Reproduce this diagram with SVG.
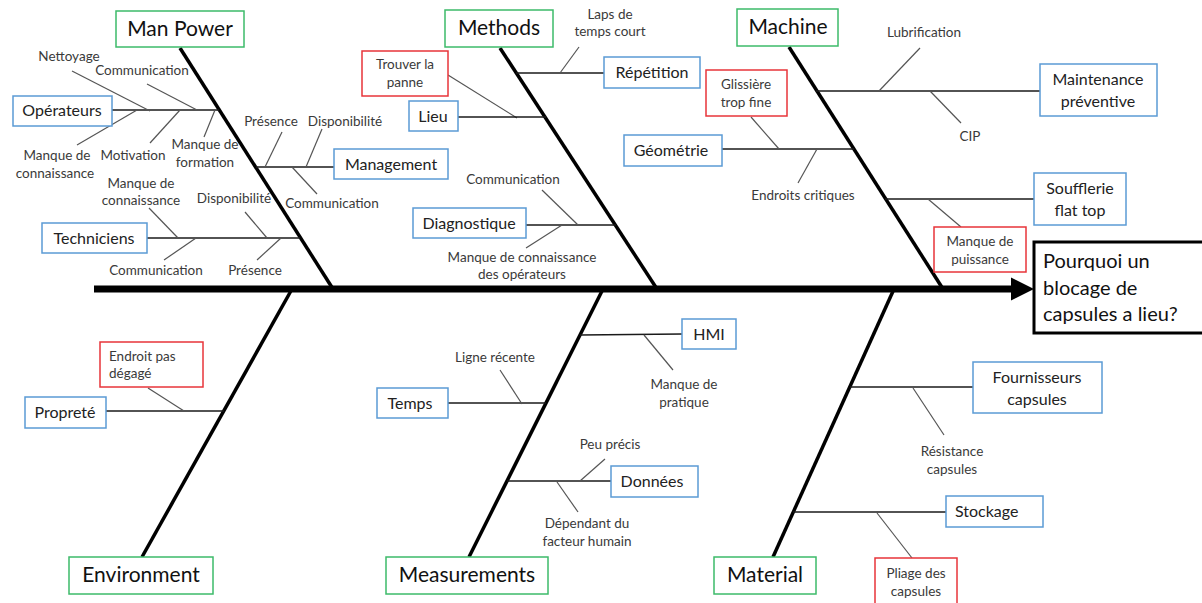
<svg xmlns="http://www.w3.org/2000/svg" width="1202" height="603" viewBox="0 0 1202 603">
  <style>
    .cat { fill: #fff; stroke: #3DBB6A; stroke-width: 1.5; }
    .sub { fill: #fff; stroke: #5B9BD5; stroke-width: 1.5; }
    .red { fill: #fff; stroke: #E8343A; stroke-width: 1.5; }
    .bone { stroke: #000; stroke-width: 3.5; fill: none; }
    .branch { stroke: #1a1a1a; stroke-width: 1.5; fill: none; }
    .twig { stroke: #555; stroke-width: 1.2; fill: none; }
    text { font-family: Lato, "Liberation Sans", sans-serif; }
    .tc { font-size: 21px; fill: #111; text-anchor: middle; }
    .tb { font-size: 16px; fill: #222; text-anchor: middle; }
    .tl { font-size: 13.5px; fill: #3a3a3a; text-anchor: middle; }
    .start { text-anchor: start; }
    .tp { font-size: 20px; fill: #111; }
  </style>
  <defs>
    <marker id="head" viewBox="0 0 10 10" refX="0" refY="5" markerWidth="3.3" markerHeight="3.3" orient="auto" markerUnits="strokeWidth">
      <path d="M0,0 L10,5 L0,10 z" fill="#000"/>
    </marker>
  </defs>

  <rect width="1202" height="603" fill="#fff"/>

  <!-- connectors: spine, bones, branches, twigs -->
  <g id="connectors">
    <line x1="94" y1="289" x2="1011" y2="289" stroke="#000" stroke-width="7" marker-end="url(#head)"/>

    <line class="bone" x1="180" y1="48" x2="333" y2="289"/>
    <line class="bone" x1="500" y1="48" x2="657" y2="289"/>
    <line class="bone" x1="789" y1="47" x2="943" y2="289"/>
    <line class="bone" x1="292" y1="289" x2="142" y2="557"/>
    <line class="bone" x1="603" y1="289" x2="469" y2="557"/>
    <line class="bone" x1="894" y1="289" x2="773" y2="557"/>

    <!-- Man Power -->
    <line class="branch" x1="112" y1="110" x2="219" y2="110"/>
    <line class="twig" x1="72" y1="71" x2="150" y2="111"/>
    <line class="twig" x1="147" y1="84" x2="197" y2="110"/>
    <line class="twig" x1="77" y1="145" x2="137" y2="110"/>
    <line class="twig" x1="150" y1="143" x2="180" y2="110"/>
    <line class="twig" x1="204" y1="137" x2="215" y2="110"/>
    <line class="branch" x1="256" y1="167" x2="334" y2="167"/>
    <line class="twig" x1="282" y1="132" x2="265" y2="167"/>
    <line class="twig" x1="322" y1="129" x2="306" y2="167"/>
    <line class="twig" x1="292" y1="167" x2="317" y2="194"/>
    <line class="branch" x1="147" y1="238" x2="300" y2="238"/>
    <line class="twig" x1="149" y1="208" x2="178" y2="238"/>
    <line class="twig" x1="164" y1="260" x2="196" y2="238"/>
    <line class="twig" x1="245" y1="212" x2="267" y2="238"/>
    <line class="twig" x1="257" y1="260" x2="281" y2="238"/>

    <!-- Methods -->
    <line class="branch" x1="516" y1="73" x2="604" y2="73"/>
    <line class="twig" x1="579" y1="47" x2="560" y2="73"/>
    <line class="twig" x1="448" y1="75" x2="517" y2="118"/>
    <line class="branch" x1="458" y1="117" x2="546" y2="117"/>
    <line class="branch" x1="526" y1="225" x2="616" y2="225"/>
    <line class="twig" x1="542" y1="190" x2="578" y2="225"/>
    <line class="twig" x1="526" y1="248" x2="562" y2="225"/>
    <line class="branch" x1="722" y1="149" x2="854" y2="149"/>
    <line class="twig" x1="751" y1="117" x2="779" y2="149"/>
    <line class="twig" x1="798" y1="183" x2="817" y2="149"/>

    <!-- Machine -->
    <line class="branch" x1="816" y1="91" x2="1040" y2="91"/>
    <line class="twig" x1="920" y1="48" x2="879" y2="91"/>
    <line class="twig" x1="930" y1="91" x2="961" y2="123"/>
    <line class="branch" x1="885" y1="199" x2="1034" y2="199"/>
    <line class="twig" x1="928" y1="199" x2="961" y2="227"/>

    <!-- Environment -->
    <line class="branch" x1="106" y1="411" x2="224" y2="411" stroke="#666"/>
    <line class="twig" x1="148" y1="388" x2="184" y2="411"/>

    <!-- Measurements -->
    <line class="branch" x1="580" y1="335" x2="682" y2="334"/>
    <line class="twig" x1="644" y1="335" x2="673" y2="370"/>
    <line class="branch" x1="448" y1="403" x2="546" y2="403"/>
    <line class="twig" x1="500" y1="370" x2="522" y2="404"/>
    <line class="branch" x1="507" y1="481" x2="611" y2="481"/>
    <line class="twig" x1="605" y1="459" x2="580" y2="481"/>
    <line class="twig" x1="557" y1="482" x2="578" y2="512"/>

    <!-- Material -->
    <line class="branch" x1="850" y1="387" x2="973" y2="387"/>
    <line class="twig" x1="913" y1="388" x2="944" y2="435"/>
    <line class="branch" x1="793" y1="512" x2="946" y2="512"/>
    <line class="twig" x1="877" y1="513" x2="912" y2="558"/>
  </g>

  <!-- problem statement -->
  <g id="problem">
    <rect x="1034" y="242" width="172" height="91" fill="#fff" stroke="#000" stroke-width="3"/>
    <text class="tp" x="1043" y="268">Pourquoi un</text>
    <text class="tp" x="1043" y="295">blocage de</text>
    <text class="tp" x="1043" y="321">capsules a lieu?</text>
  </g>

  <!-- categories -->
  <g id="man-power"><rect class="cat" x="116" y="11" width="128" height="36"/><text class="tc" x="180" y="36">Man Power</text></g>
  <g id="methods"><rect class="cat" x="445" y="10" width="108" height="37"/><text class="tc" x="499" y="35">Methods</text></g>
  <g id="machine"><rect class="cat" x="737" y="9" width="101" height="37"/><text class="tc" x="788" y="34">Machine</text></g>
  <g id="environment"><rect class="cat" x="69" y="557" width="144" height="37"/><text class="tc" x="141" y="582">Environment</text></g>
  <g id="measurements"><rect class="cat" x="386" y="557" width="162" height="37"/><text class="tc" x="467" y="582">Measurements</text></g>
  <g id="material"><rect class="cat" x="714" y="557" width="102" height="37"/><text class="tc" x="765" y="582">Material</text></g>

  <!-- sub-causes -->
  <g id="operateurs"><rect class="sub" x="13" y="96" width="99" height="30"/><text class="tb" x="62" y="116">Opérateurs</text></g>
  <g id="management"><rect class="sub" x="334" y="149" width="114" height="30"/><text class="tb" x="391" y="170">Management</text></g>
  <g id="techniciens"><rect class="sub" x="42" y="223" width="105" height="30"/><text class="tb" x="94" y="244">Techniciens</text></g>
  <g id="repetition"><rect class="sub" x="604" y="57" width="96" height="31"/><text class="tb" x="652" y="78">Répétition</text></g>
  <g id="lieu"><rect class="sub" x="409" y="101" width="49" height="30"/><text class="tb" x="433" y="122">Lieu</text></g>
  <g id="diagnostique"><rect class="sub" x="413" y="208" width="113" height="30"/><text class="tb" x="469" y="229">Diagnostique</text></g>
  <g id="geometrie"><rect class="sub" x="624" y="135" width="98" height="31"/><text class="tb" x="671" y="156">Géométrie</text></g>
  <g id="maintenance"><rect class="sub" x="1040" y="64" width="117" height="52"/><text class="tb" x="1098" y="85">Maintenance</text><text class="tb" x="1098" y="107">préventive</text></g>
  <g id="soufflerie"><rect class="sub" x="1034" y="173" width="92" height="52"/><text class="tb" x="1080" y="194">Soufflerie</text><text class="tb" x="1080" y="216">flat top</text></g>
  <g id="proprete"><rect class="sub" x="25" y="397" width="81" height="31"/><text class="tb" x="65" y="418">Propreté</text></g>
  <g id="hmi"><rect class="sub" x="682" y="319" width="54" height="30"/><text class="tb" x="709" y="340">HMI</text></g>
  <g id="temps"><rect class="sub" x="377" y="388" width="71" height="30"/><text class="tb" x="410" y="409">Temps</text></g>
  <g id="donnees"><rect class="sub" x="611" y="466" width="87" height="31"/><text class="tb" x="652" y="487">Données</text></g>
  <g id="fournisseurs"><rect class="sub" x="973" y="362" width="129" height="51"/><text class="tb" x="1037" y="383">Fournisseurs</text><text class="tb" x="1037" y="405">capsules</text></g>
  <g id="stockage"><rect class="sub" x="946" y="496" width="97" height="31"/><text class="tb start" x="955" y="517">Stockage</text></g>

  <!-- highlighted causes -->
  <g id="trouver-panne"><rect class="red" x="362" y="51" width="86" height="45"/><text class="tl" x="405" y="69">Trouver la</text><text class="tl" x="405" y="87">panne</text></g>
  <g id="glissiere"><rect class="red" x="706" y="70" width="81" height="46"/><text class="tl" x="746" y="89">Glissière</text><text class="tl" x="746" y="107">trop fine</text></g>
  <g id="puissance"><rect class="red" x="934" y="227" width="92" height="45"/><text class="tl" x="980" y="246">Manque de</text><text class="tl" x="980" y="264">puissance</text></g>
  <g id="endroit-degage"><rect class="red" x="100" y="342" width="103" height="45"/><text class="tl start" x="109" y="361">Endroit pas</text><text class="tl start" x="109" y="378">dégagé</text></g>
  <g id="pliage"><rect class="red" x="875" y="558" width="82" height="50"/><text class="tl" x="916" y="578">Pliage des</text><text class="tl" x="916" y="596">capsules</text></g>

  <!-- detail labels -->
  <g id="labels">
    <text class="tl" x="69" y="61">Nettoyage</text>
    <text class="tl" x="142" y="75">Communication</text>
    <text class="tl" x="57" y="160">Manque de</text>
    <text class="tl" x="55" y="178">connaissance</text>
    <text class="tl" x="133" y="160">Motivation</text>
    <text class="tl" x="205" y="149">Manque de</text>
    <text class="tl" x="205" y="167">formation</text>
    <text class="tl" x="271" y="126">Présence</text>
    <text class="tl" x="345" y="126">Disponibilité</text>
    <text class="tl" x="332" y="208">Communication</text>
    <text class="tl" x="141" y="188">Manque de</text>
    <text class="tl" x="141" y="205">connaissance</text>
    <text class="tl" x="234" y="203">Disponibilité</text>
    <text class="tl" x="156" y="275">Communication</text>
    <text class="tl" x="255" y="275">Présence</text>
    <text class="tl" x="610" y="19">Laps de</text>
    <text class="tl" x="610" y="36">temps court</text>
    <text class="tl" x="513" y="184">Communication</text>
    <text class="tl" x="522" y="262">Manque de connaissance</text>
    <text class="tl" x="522" y="279">des opérateurs</text>
    <text class="tl" x="803" y="200">Endroits critiques</text>
    <text class="tl" x="924" y="37">Lubrification</text>
    <text class="tl" x="970" y="141">CIP</text>
    <text class="tl" x="684" y="389">Manque de</text>
    <text class="tl" x="684" y="407">pratique</text>
    <text class="tl" x="495" y="362">Ligne récente</text>
    <text class="tl" x="610" y="449">Peu précis</text>
    <text class="tl" x="587" y="528">Dépendant du</text>
    <text class="tl" x="587" y="546">facteur humain</text>
    <text class="tl" x="952" y="456">Résistance</text>
    <text class="tl" x="952" y="474">capsules</text>
  </g>
</svg>
